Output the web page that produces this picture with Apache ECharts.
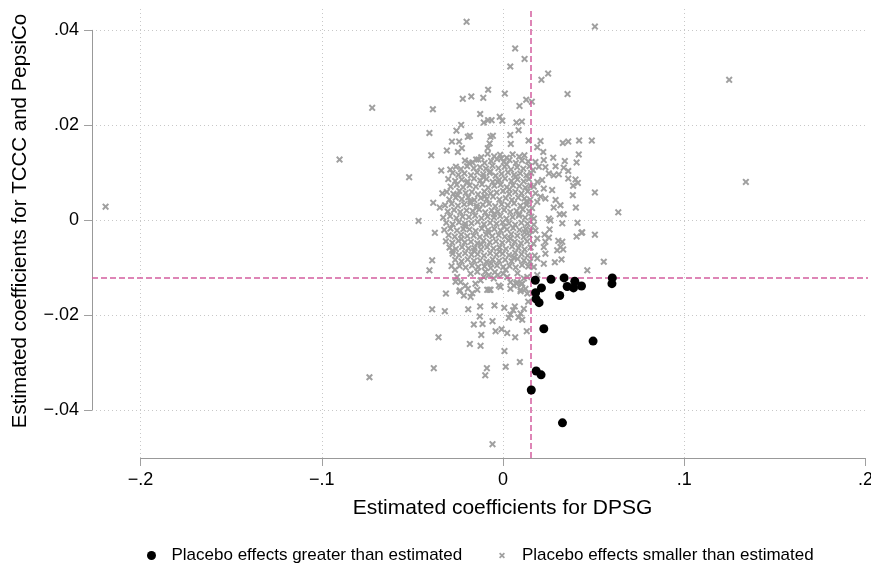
<!DOCTYPE html>
<html><head><meta charset="utf-8">
<script src="https://cdn.jsdelivr.net/npm/echarts@6/dist/echarts.min.js"></script>
<style>html,body{margin:0;padding:0;background:#fff}#c{width:871px;height:567px}</style>
</head><body><div id="c"></div>
<script>
// ---- axis ticks / labels ----
const xTicks = [-0.2, -0.1, 0, 0.1, 0.2];
const xTickLabels = ['\u2212.2', '\u2212.1', '0', '.1', '.2'];
const yTicks = [0.04, 0.02, 0, -0.02, -0.04];
const yTickLabels = ['.04', '.02', '0', '\u2212.02', '\u2212.04'];
const xGridValues = [-0.2, -0.1, 0, 0.1];
const yGridValues = [0.04, 0.02, 0, -0.02, -0.04];
const xRange = [-0.2268, 0.2014];
const yRange = [-0.0501, 0.0444];
// reference lines (estimated effects)
const refX = 0.0153;
const refY = -0.0121;
const xTitle = 'Estimated coefficients for DPSG';
const yTitle = 'Estimated coefficients for TCCC and PepsiCo';
const nameGreater = 'Placebo effects greater than estimated';
const nameSmaller = 'Placebo effects smaller than estimated';

// ---- placebo estimates greater (in magnitude) than the actual estimate: [DPSG, TCCC&PepsiCo] ----
const greaterPoints = [
[.0178,-.0127],[.0265,-.0125],[.0337,-.0122],[.0396,-.0129],[.0354,-.014],[.0389,-.0143],[.0433,-.0139],
[.0603,-.0122],[.0601,-.0134],[.0212,-.0143],[.018,-.0153],[.0182,-.0166],[.0199,-.0174],[.0313,-.0159],
[.0225,-.0229],[.0497,-.0255],[.0183,-.0318],[.021,-.0326],[.0156,-.0358],[.0328,-.0427]
];

// ---- placebo estimates smaller than the actual estimate ----
const smallerPoints = [
[-.2193,.0028],[-.0722,.0236],[-.0902,.0127],[-.0737,-.0331],[.1248,.0295],[.134,.008],
[-.0201,.0417],[.0507,.0407],[.0067,.0361],[.0119,.0339],[.004,.0323],[.0212,.0295],[.0249,.0308],[.0356,.0265],
[-.0082,.0274],[.001,.0266],[-.0222,.0255],[-.0175,.026],[-.0109,.0257],[-.0387,.0233],[.0128,.0253],[.0159,.0249],
[.0091,.024],[-.0126,.0223],[-.0106,.0205],[-.0082,.021],[-.0063,.021],[-.0018,.0217],[-.0004,.0209],[.0074,.0205],
[.0104,.0207],[.0086,.0189],[-.0406,.0183],[-.0231,.02],[-.0257,.0188],[-.0194,.0175],[-.0183,.0177],[-.0069,.0175],
[-.0056,.0177],[.004,.0179],[.0043,.016],[.0141,.0167],[.0207,.0166],[.0189,.0153],[.033,.0162],[.036,.0165],
[.042,.0167],[.049,.0167],[-.0396,.0136],[-.0282,.0165],[-.0242,.0165],[-.031,.0146],[-.0249,.0143],[-.0227,.0151],
[-.0518,.009],[-.0341,.0104],[-.0291,.0106],[-.0186,.012],[-.0148,.0127],[.0418,.0138],[.0406,.0121],[.0507,.0058],
[.0636,.0016],[-.0335,.0056],[-.0385,.0036],[-.0349,.0026],[-.0466,-.0002],[-.0376,-.0027],[.0385,.0052],[.0402,.0026],
[.0411,-.0006],[.0437,-.0026],[.0507,-.0031],[.0406,-.0035],[-.0074,.0161],[-.0084,.0151],
[.0222,.0143],[.0277,.0131],[.0341,.0124],[.0225,.0126],[.0179,.0122],[.0198,.0112],[.0234,.0111],[.029,.0113],
[.0335,.011],[.036,.0103],[.0253,.0098],[.028,.0094],[.0308,.0096],[.0189,.008],[.0216,.0084],[.036,.0087],
[.04,.0085],[.0413,.0078],[.0387,.0072],[.017,.007],[.0225,.0066],[.0271,.0063],[.0179,.0056],[.0207,.0049],
[.0234,.0045],[.0189,.0038],[.029,.0042],[.0317,.0031],[.028,.0026],[.0335,.0012],[.0313,.0012],[.0253,.0003],
[.0262,-.0001],[.0327,-.0007],[.017,.0003],[.0179,-.0022],[.0257,-.002],[.0189,-.0039],[.0234,-.0046],[.0305,-.0044],
[.0225,-.0057],[.0317,-.0057],[.0234,-.0071],[.0189,-.0081],[.017,-.0099],[.0225,-.0092],
[.0556,-.0088],[.0465,-.0106],[-.0391,-.0085],[-.0406,-.0106],[-.0284,-.0097],[-.0262,-.013],[-.0315,-.0155],
[-.0391,-.0188],[-.0321,-.0192],[-.0356,-.0247],[-.0382,-.0312],[-.0183,-.0261],[-.0124,-.0265],[-.012,-.0242],
[-.0161,-.022],[-.0113,-.0219],[-.0058,-.0213],[-.0041,-.0234],[-.0008,-.023],[.0023,-.0238],[.0067,-.0247],
[.0131,-.0234],[.0008,-.0276],[.0015,-.0309],[.0093,-.0299],[-.0089,-.0312],[-.0098,-.0327],[-.0058,-.0472],
[-.0192,-.0188],[-.0126,-.0182],[-.0047,-.018],[-.0128,-.0203],[.0007,-.0185],[.0032,-.0206],[.0056,-.019],
[.0097,-.0197],[.0106,-.021],[.0139,-.0172],[-.024,-.015],[-.0216,-.0159],[-.0179,-.0162],[-.0194,-.0145],
[-.0076,-.0147],[-.0014,-.0141],[.0041,-.0145],[.0097,-.0147],[.0073,-.0134],[.0102,-.0135],[.0189,-.0116],
[.0286,-.0089],[.0323,-.0083],[.0299,-.0064],[.0332,-.0062],[.0327,-.0046],[.0253,-.0037],[.0229,-.0031],[.0433,-.0027],
[.0065,-.0182],[.0085,-.0205],[.0115,-.0187],[.0041,-.0199],
[-.0238,-.0148],[-.017,-.0154],[-.0142,-.0147],[-.0152,-.0134],[-.0124,-.0127],[-.0106,-.012],[-.0078,-.0116],
[-.0051,-.0123],[-.0029,-.0116],[.0001,-.0113],[.0023,-.012],[.0041,-.0131],[.006,-.0138],[.0078,-.0131],
[.0106,-.0134],[.0124,-.0145],[.0134,-.0155],[-.0087,-.0147],[-.0069,-.0147],[-.0023,-.0138],[.0097,-.015],
[.0115,-.0123],[.0134,-.012],[-.0097,-.0109],[-.0142,-.0109],[-.0179,-.0113],[-.0207,-.0138],[-.0234,-.0131],[-.0253,-.012],
[-.012,.0132],[-.0085,.0139],[-.0049,.0134],[-.0016,.0137],[.002,.0131],[.0053,.0138],[.0089,.0133],[.0118,.0136],
[-.021,.0125],[-.0169,.0121],[-.0136,.0127],[-.0102,.012],[-.0066,.0124],[-.0033,.0128],[.0004,.0122],[.0036,.0126],
[.0071,.012],[.0105,.0125],[.0139,.0123],
[-.026,.0112],[-.0232,.0107],[-.0198,.0113],[-.0161,.0109],[-.0127,.0111],[-.0094,.0108],[-.0058,.0114],[-.0025,.0109],
[.0009,.0112],[.0044,.0106],[.0078,.0111],[.0112,.0108],[.0146,.0113],
[-.0278,.0099],[-.0246,.0095],[-.0213,.0098],[-.0177,.0094],[-.0143,.01],[-.0109,.0096],[-.0074,.0099],[-.0041,.0093],
[-.0008,.0097],[.0027,.01],[.0061,.0095],[.0095,.0098],[.0129,.0094],[.0155,.0099],
[-.0302,.0086],[-.0264,.0082],[-.0228,.0085],[-.0195,.0081],[-.016,.0087],[-.0126,.0083],[-.0091,.0086],[-.0057,.008],
[-.0022,.0084],[.0011,.0087],[.0046,.0082],[.008,.0085],[.0114,.0081],[.0143,.0086],
[-.0289,.007],[-.0255,.0074],[-.022,.0069],[-.0184,.0073],[-.015,.007],[-.0116,.0075],[-.0082,.0068],[-.0048,.0072],
[-.0013,.0074],[.0021,.0069],[.0055,.0073],[.009,.0071],[.0123,.0068],[.0151,.0072],
[-.031,.0059],[-.0274,.0055],[-.0241,.0061],[-.0206,.0057],[-.0172,.0059],[-.0138,.0054],[-.0103,.006],[-.0069,.0056],
[-.0035,.0058],[0,.0061],[.0034,.0055],[.0068,.0059],[.0102,.0056],[.0136,.006],
[-.0296,.0043],[-.0261,.0047],[-.0227,.0044],[-.0192,.0048],[-.0158,.0042],[-.0123,.0046],[-.009,.0044],[-.0055,.0049],
[-.002,.0043],[.0015,.0046],[.0049,.0042],[.0084,.0047],[.0118,.0045],[.015,.0043],
[-.032,.0031],[-.0283,.0034],[-.0249,.003],[-.0214,.0033],[-.018,.0035],[-.0145,.003],[-.0111,.0032],[-.0077,.0034],
[-.0043,.0029],[-.0008,.0033],[.0026,.0031],[.0061,.0035],[.0096,.003],[.013,.0032],
[-.0305,.0018],[-.027,.0021],[-.0236,.0017],[-.0201,.002],[-.0167,.0019],[-.0132,.0022],[-.0098,.0016],[-.0063,.002],
[-.0029,.0018],[.0006,.0021],[.004,.0017],[.0075,.0019],[.0109,.0022],[.0144,.0018],
[-.033,.0005],[-.0292,.0008],[-.0257,.0004],[-.0223,.0007],[-.0188,.0006],[-.0154,.0009],[-.0119,.0004],[-.0085,.0007],
[-.005,.0005],[-.0016,.0008],[.0019,.0003],[.0053,.0006],[.0088,.0009],[.0122,.0005],[.0156,.0007],
[-.0313,-.0006],[-.0278,-.0009],[-.0243,-.0005],[-.0209,-.0008],[-.0174,-.0007],[-.014,-.0004],[-.0105,-.0009],[-.0071,-.0006],
[-.0036,-.0008],[-.0002,-.0005],[.0033,-.0007],[.0067,-.001],[.0101,-.0006],[.0135,-.0008],
[-.0324,-.0021],[-.029,-.0018],[-.0254,-.0022],[-.0219,-.0019],[-.0185,-.002],[-.0151,-.0023],[-.0117,-.0018],[-.0082,-.0021],
[-.0048,-.0019],[-.0013,-.0022],[.0022,-.002],[.0056,-.0017],[.0091,-.0021],[.0125,-.0019],[.0153,-.0022],
[-.03,-.0032],[-.0266,-.0035],[-.0231,-.0031],[-.0197,-.0034],[-.0162,-.0033],[-.0128,-.0036],[-.0093,-.0031],[-.0059,-.0034],
[-.0024,-.0032],[.001,-.0035],[.0045,-.003],[.0079,-.0033],[.0114,-.0036],[.0146,-.0032],
[-.0315,-.0045],[-.028,-.0048],[-.0246,-.0044],[-.0211,-.0047],[-.0177,-.0046],[-.0142,-.0049],[-.0108,-.0044],[-.0073,-.0047],
[-.0039,-.0045],[-.0004,-.0048],[.003,-.0043],[.0065,-.0046],[.0099,-.0049],[.0133,-.0045],
[-.0295,-.0058],[-.026,-.0061],[-.0226,-.0057],[-.0191,-.006],[-.0157,-.0059],[-.0122,-.0062],[-.0088,-.0057],[-.0053,-.006],
[-.0019,-.0058],[.0016,-.0061],[.005,-.0056],[.0085,-.0059],[.0119,-.0062],[.0152,-.0058],
[-.0278,-.0071],[-.0243,-.0074],[-.0209,-.007],[-.0174,-.0073],[-.014,-.0072],[-.0105,-.0075],[-.0071,-.007],[-.0036,-.0073],
[-.0002,-.0071],[.0033,-.0074],[.0067,-.0069],[.0102,-.0072],[.0136,-.0075],
[-.0264,-.0084],[-.0229,-.0087],[-.0195,-.0083],[-.016,-.0086],[-.0126,-.0085],[-.0091,-.0088],[-.0057,-.0083],[-.0022,-.0086],
[.0012,-.0084],[.0047,-.0087],[.0081,-.0082],[.0116,-.0085],[.0149,-.0088],
[-.024,-.0097],[-.0206,-.01],[-.0171,-.0096],[-.0137,-.0099],[-.0102,-.0098],[-.0068,-.0101],[-.0033,-.0096],[.0001,-.0099],
[.0036,-.0097],[.007,-.01],[.0105,-.0095],[.0139,-.0098],
[-.007,.0102],[-.003,.008],[.0035,.0064],[-.01,.005],[-.0145,.0026],[-.005,.0012],[.0005,-.0014],[-.008,-.0027],
[.004,-.0039],[-.012,-.0052],[-.002,-.0066],[.006,-.0079],[-.0065,-.0092],[-.018,.0039],[-.021,-.0013],[-.016,-.0065],
[.009,.0012],[.012,-.0026],[-.025,.0052],[-.023,-.004],[.002,.0117],[-.001,.013],[-.011,.009],[.007,.0091],
[-.02,.0078],[.013,.0039],[-.0045,-.011],[.0015,-.0105],[.008,-.0112],[-.0265,-.0105],[-.028,-.0065],[.0165,.0105],
[.017,-.001],[.0168,-.005],[.0175,-.0075],[.016,.0025]
];

const FONT = '"Liberation Sans", Arial, sans-serif';
const crossPath = 'path://M0,2L2,0L5,3L8,0L10,2L7,5L10,8L8,10L5,7L2,10L0,8L3,5Z';
const labelOf = (ticks, labels) => v => {
  const i = ticks.findIndex(t => Math.abs(t - v) < 1e-9);
  return i >= 0 ? labels[i] : '';
};

const chart = echarts.init(document.getElementById('c'), null, {renderer: 'canvas'});
chart.setOption({
  animation: false,
  backgroundColor: '#ffffff',
  grid: {left: 92, right: 3, top: 9, bottom: 109, containLabel: false, outerBoundsMode: 'none'},
  xAxis: {
    type: 'value', min: xRange[0], max: xRange[1],
    axisLine: {show: false, onZero: false},
    axisTick: {show: true, customValues: xTicks, length: 8, lineStyle: {color: '#a0a0a0', width: 1}},
    axisLabel: {customValues: xTicks, formatter: labelOf(xTicks, xTickLabels), margin: 13,
      color: '#000', fontSize: 18, fontFamily: FONT},
    splitLine: {show: false}
  },
  yAxis: {
    type: 'value', min: yRange[0], max: yRange[1],
    axisLine: {show: false, onZero: false},
    axisTick: {show: true, customValues: yTicks, length: 8, lineStyle: {color: '#a0a0a0', width: 1}},
    axisLabel: {customValues: yTicks, formatter: labelOf(yTicks, yTickLabels), margin: 13,
      color: '#000', fontSize: 18, fontFamily: FONT},
    splitLine: {show: false}
  },
  legend: [
    {data: [{name: nameGreater, icon: 'circle'}], left: 142, top: 542, itemWidth: 30, itemHeight: 9,
     selectedMode: false, textStyle: {fontSize: 17, color: '#000', fontFamily: FONT}},
    {data: [{name: nameSmaller, icon: crossPath}], left: 494, top: 542, itemWidth: 30, itemHeight: 6,
     selectedMode: false, textStyle: {fontSize: 17, color: '#000', fontFamily: FONT}}
  ],
  graphic: [
    {type: 'text', x: 502.5, y: 508, silent: true,
     style: {text: xTitle, font: '21px ' + FONT, fill: '#000', align: 'center', verticalAlign: 'middle'}},
    {type: 'text', x: 20, y: 221, rotation: Math.PI / 2, silent: true,
     style: {text: yTitle, font: '20.5px ' + FONT, fill: '#000', align: 'center', verticalAlign: 'middle'}}
  ],
  series: [
    {
      name: 'grid', type: 'scatter', data: [], silent: true, clip: false, z: 1,
      markLine: {
        silent: true, symbol: 'none', z: 1, precision: 6, animation: false, label: {show: false},
        lineStyle: {color: '#c8c8c8', type: [1, 3], width: 1},
        data: xGridValues.map(v => ({xAxis: v})).concat(yGridValues.map(v => ({yAxis: v})))
      }
    },
    {
      name: 'axes', type: 'scatter', data: [], silent: true, clip: false, z: 1,
      markLine: {
        silent: true, symbol: 'none', z: 2, precision: 6, animation: false, label: {show: false},
        lineStyle: {color: '#999999', type: 'solid', width: 1},
        data: [
          [{coord: [xTicks[0], yRange[0]]}, {coord: [xTicks[xTicks.length - 1], yRange[0]]}],
          [{coord: [xRange[0], yTicks[0]]}, {coord: [xRange[0], yTicks[yTicks.length - 1]]}]
        ]
      }
    },
    {
      name: nameSmaller, type: 'scatter', data: smallerPoints, z: 2,
      symbol: crossPath, symbolSize: 7,
      itemStyle: {color: '#a0a0a0', opacity: 1}
    },
    {
      name: 'ref', type: 'scatter', data: [], silent: true, clip: false, z: 3,
      markLine: {
        silent: true, symbol: 'none', z: 3, precision: 6, animation: false, label: {show: false},
        lineStyle: {color: '#d35e9e', type: [6, 3], width: 1.5},
        data: [{xAxis: refX}, {yAxis: refY}]
      }
    },
    {
      name: nameGreater, type: 'scatter', data: greaterPoints, z: 4,
      symbol: 'circle', symbolSize: 9,
      itemStyle: {color: '#000000', opacity: 1}
    }
  ]
});
</script>
</body></html>
